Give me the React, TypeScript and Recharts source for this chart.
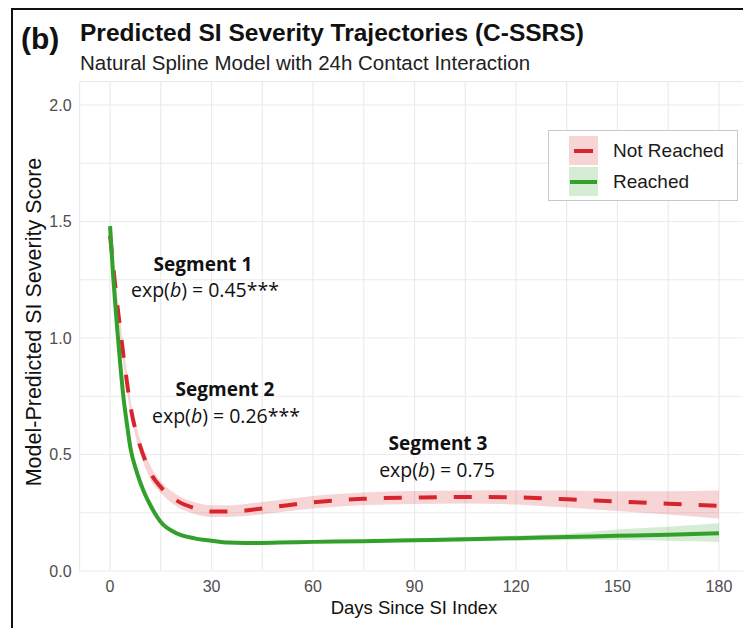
import { ComposedChart, Area, Line, XAxis, YAxis, CartesianGrid } from 'recharts';

const days = [0, 1, 2, 3, 4, 5, 6, 8, 10, 12, 15, 20, 25, 30, 35, 40, 50, 60, 75, 90, 105, 120, 135, 150, 165, 180];

const notReached = [1.44, 1.3, 1.16, 1.04, 0.92, 0.81, 0.71, 0.58, 0.49, 0.42, 0.36, 0.3, 0.27, 0.255, 0.255, 0.26, 0.278, 0.295, 0.31, 0.315, 0.318, 0.316, 0.308, 0.298, 0.289, 0.28];
const notReachedLo = [1.39, 1.26, 1.12, 1.0, 0.88, 0.77, 0.68, 0.55, 0.46, 0.39, 0.335, 0.275, 0.245, 0.232, 0.232, 0.236, 0.252, 0.268, 0.283, 0.288, 0.29, 0.285, 0.272, 0.258, 0.242, 0.225];
const notReachedHi = [1.49, 1.34, 1.2, 1.08, 0.96, 0.85, 0.74, 0.61, 0.52, 0.45, 0.385, 0.325, 0.295, 0.282, 0.282, 0.288, 0.305, 0.322, 0.337, 0.343, 0.346, 0.347, 0.345, 0.342, 0.342, 0.345];

const reached = [1.48, 1.25, 1.06, 0.89, 0.74, 0.63, 0.53, 0.42, 0.34, 0.28, 0.21, 0.16, 0.14, 0.13, 0.122, 0.12, 0.122, 0.125, 0.128, 0.132, 0.136, 0.141, 0.146, 0.151, 0.156, 0.162];
const reachedLo = [1.46, 1.235, 1.045, 0.875, 0.727, 0.618, 0.518, 0.41, 0.331, 0.272, 0.203, 0.153, 0.133, 0.123, 0.115, 0.113, 0.115, 0.118, 0.121, 0.124, 0.127, 0.13, 0.132, 0.133, 0.13, 0.125];
const reachedHi = [1.5, 1.265, 1.075, 0.905, 0.753, 0.642, 0.542, 0.43, 0.349, 0.288, 0.217, 0.167, 0.147, 0.137, 0.129, 0.127, 0.129, 0.132, 0.135, 0.14, 0.145, 0.152, 0.16, 0.178, 0.19, 0.205];

const xTicks = [0, 15, 30, 45, 60, 75, 90, 105, 120, 135, 150, 165, 180];
const yTicks = [0, 0.25, 0.5, 0.75, 1, 1.25, 1.5, 1.75, 2];

const RED = '#d7262b';
const GREEN = '#33a02c';

const rows = days.map((d, i) => ({
  day: d,
  nr: notReached[i],
  nrBand: [notReachedLo[i], notReachedHi[i]],
  r: reached[i],
  rBand: [reachedLo[i], reachedHi[i]],
}));

const gg = '"Liberation Sans", Arial, sans-serif';
const note = '"Open Sans", sans-serif';

function LegendBox() {
  const item = (label: string, color: string, bg: string, dashed: boolean) => (
    <div style={{ display: 'flex', alignItems: 'center', height: 31 }}>
      <div style={{ width: 29, height: 29, background: bg, display: 'flex', alignItems: 'center', justifyContent: 'center' }}>
        <div style={{ width: dashed ? 19 : 27, height: 4, background: color }} />
      </div>
      <span style={{ marginLeft: 15, fontSize: 19, color: '#1a1a1a', fontFamily: gg }}>{label}</span>
    </div>
  );
  return (
    <div style={{ position: 'absolute', left: 548, top: 130, width: 158, height: 62, padding: '4px 10px 3px 20px', border: '1px solid #c8c8c8', background: '#fff' }}>
      {item('Not Reached', RED, 'rgba(215,38,43,0.2)', true)}
      {item('Reached', GREEN, 'rgba(51,160,44,0.2)', false)}
    </div>
  );
}

export default function App() {
  return (
    <div style={{ position: 'absolute', left: 0, top: 0, width: 743, height: 628, overflow: 'hidden', background: '#fff' }}>
      <ComposedChart width={780} height={628} data={rows} margin={{ top: 81.7, right: 30.6, bottom: 27, left: 39.6 }}>
        <CartesianGrid stroke="#ebebeb" strokeWidth={1.2} />
        <XAxis
          dataKey="day"
          type="number"
          domain={[-9, 189]}
          ticks={xTicks}
          tickFormatter={(v: number) => (v % 30 === 0 ? String(v) : '')}
          axisLine={false}
          tickLine={false}
          tickMargin={4}
          height={30}
          interval={0}
          tick={{ fill: '#4d4d4d', fontSize: 16, fontFamily: gg }}
        />
        <YAxis
          type="number"
          domain={[0, 2.1]}
          ticks={yTicks}
          tickFormatter={(v: number) => ((v * 2) % 1 === 0 ? v.toFixed(1) : '')}
          axisLine={false}
          tickLine={false}
          width={40}
          interval={0}
          tick={{ fill: '#4d4d4d', fontSize: 16, fontFamily: gg }}
        />
        <Area dataKey="nrBand" type="monotone" stroke="none" fill={RED} fillOpacity={0.2} isAnimationActive={false} legendType="none" />
        <Area dataKey="rBand" type="monotone" stroke="none" fill={GREEN} fillOpacity={0.2} isAnimationActive={false} legendType="none" />
        <Line dataKey="nr" name="Not Reached" type="monotone" stroke={RED} strokeWidth={4} strokeDasharray="18 17" dot={false} isAnimationActive={false} />
        <Line dataKey="r" name="Reached" type="monotone" stroke={GREEN} strokeWidth={4} dot={false} isAnimationActive={false} />
      </ComposedChart>
      <LegendBox />
      <svg width={743} height={628} style={{ position: 'absolute', left: 0, top: 0, pointerEvents: 'none' }}>
        <text x={21} y={49} fontFamily={gg} fontWeight="bold" fontSize={30} fill="#111">(b)</text>
        <text x={80} y={41} fontFamily={gg} fontWeight="bold" fontSize={24.5} fill="#111">Predicted SI Severity Trajectories (C-SSRS)</text>
        <text x={80} y={70} fontFamily={gg} fontSize={20.5} fill="#222">Natural Spline Model with 24h Contact Interaction</text>
        <text x={414} y={614} textAnchor="middle" fontFamily={gg} fontSize={18.5} fill="#111">Days Since SI Index</text>
        <text transform="translate(41,322) rotate(-90)" textAnchor="middle" fontFamily={gg} fontSize={21.5} fill="#111">Model-Predicted SI Severity Score</text>
        <g fontFamily={note} fill="#111" textAnchor="middle">
          <text x={203} y={271} fontSize={19} fontWeight="bold">Segment 1</text>
          <text x={205} y={297} fontSize={19.5}>exp(<tspan fontStyle="italic">b</tspan>) = 0.45***</text>
          <text x={225} y={396} fontSize={19} fontWeight="bold">Segment 2</text>
          <text x={226} y={423} fontSize={19.5}>exp(<tspan fontStyle="italic">b</tspan>) = 0.26***</text>
          <text x={438} y={450} fontSize={19} fontWeight="bold">Segment 3</text>
          <text x={437} y={477} fontSize={19.5}>exp(<tspan fontStyle="italic">b</tspan>) = 0.75</text>
        </g>
      </svg>
      <div style={{ position: 'absolute', left: 11, top: 8, width: 800, height: 700, border: '2px solid #111', pointerEvents: 'none' }} />
    </div>
  );
}
